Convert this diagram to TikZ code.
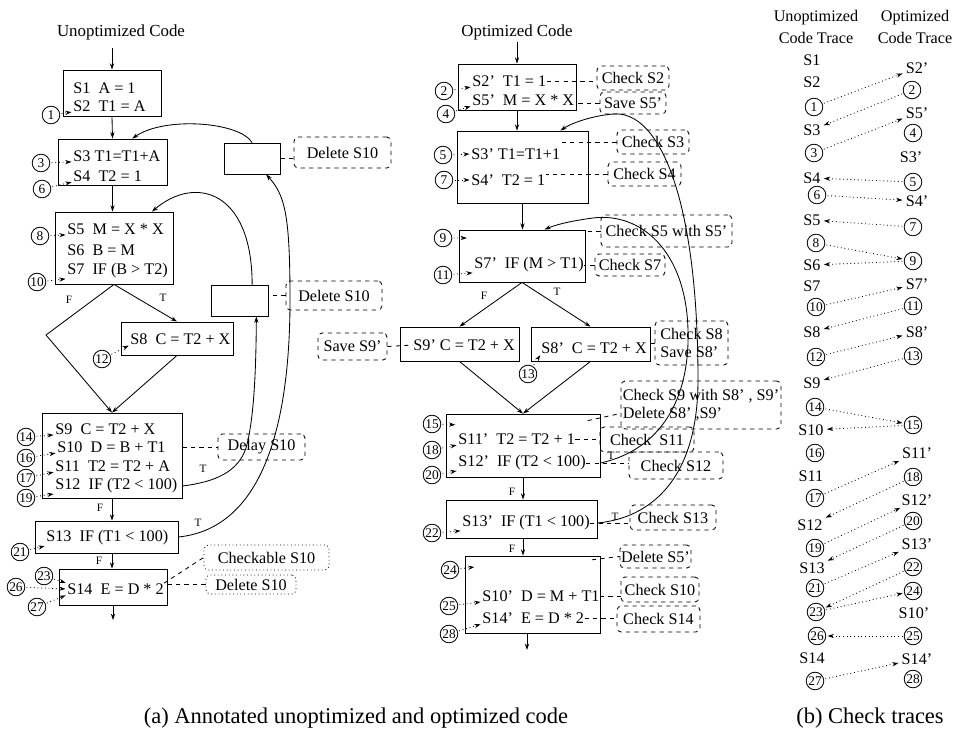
\documentclass[tikz,border=0pt]{standalone}
\usepackage{fontspec}
\setmainfont{Liberation Serif}
\usetikzlibrary{arrows.meta}
\usetikzlibrary{fit}

\begin{document}
\begin{tikzpicture}[x=0.025cm,y=-0.025cm,
    font=\fontsize{11.5}{13}\selectfont,
    line width=0.6pt,
    >={Stealth[length=4.5pt,width=3pt]},
    blk/.style={draw,inner sep=0pt,fit={#1}},
    note/.style={draw,dashed,rounded corners=3pt,inner sep=0pt,fit={#1}},
    dnote/.style={draw,dotted,rounded corners=3pt,inner sep=0pt,fit={#1}},
    code/.style={anchor=west,inner sep=0pt},
    num/.style={draw,circle,solid,inner sep=0.2pt,minimum size=12.5pt,font=\fontsize{9.5}{9.5}\selectfont},
    lbl/.style={font=\fontsize{8}{9}\selectfont},
    tr/.style={inner sep=1pt},
    trc/.style={->,dotted,shorten >=1pt,shorten <=1pt},
    link/.style={dashed}]
    \useasboundingbox (0,0) rectangle (956,738);
    %
    % unoptimized code
    \node[font=\fontsize{12}{14}\selectfont] (utitle) at (121,32) {Unoptimized Code};
    \coordinate (utop) at (112,48);
    \node[blk={(63,70) (161,116)}] (b1) {};
    \node[code] (t1) at (73,88) {S1~~A = 1};
    \node[code] (t2) at (73,106) {S2~~T1 = A};
    \node[blk={(58,139) (167,185)}] (b2) {};
    \node[code] (t3) at (73,156) {S3 T1=T1+A};
    \node[code] (t4) at (73,176) {S4~~T2 = 1};
    \node[blk={(55,212) (173,284)}] (b3) {};
    \node[code] (t5) at (67,229) {S5~~M = X * X};
    \node[code] (t6) at (67,250) {S6~~B = M};
    \node[code] (t7) at (67,271) {S7~~IF (B > T2)};
    \coordinate (dl) at (46,335);
    \node[blk={(121,322) (233,355)}] (b4) {};
    \node[code] (t8) at (130,339) {S8~~C = T2 + X};
    \node[blk={(42,413) (182,498)}] (b5) {};
    \node[code] (t9) at (55,429) {S9~~C = T2 + X};
    \node[code] (t10) at (57,447) {S10~~D = B + T1};
    \node[code] (t11) at (55,466) {S11~~T2 = T2 + A};
    \node[code] (t12) at (55,486) {S12~~IF (T2 < 100)};
    \node[blk={(35,521) (178,553)}] (b6) {};
    \node[code] (t13) at (46,538) {S13~~IF (T1 < 100)};
    \node[blk={(59,569) (167,605)}] (b7) {};
    \node[code] (t14) at (67,589) {S14~~E = D * 2};
    \coordinate (uend) at (113,620);
    %
    \draw[->] (utop) -- (b1.north);
    \draw[->] (b1.south) -- (b2.north);
    \draw[->] (b2.south) -- (b2.south |- b3.north);
    \draw[->] (b3.south) -- (dl) -- (b5.north);
    \draw[->] (b3.south) -- (b4.north);
    \draw[->] (b4.south) -- (b5.north);
    \draw[->] (b5.south) -- (b5.south |- b6.north);
    \draw[->] (b5.south |- b6.south) -- (b5.south |- b7.north);
    \draw[->] (b7.south) -- (b7.south |- uend);
    \node[lbl] (f1) at (69,300) {F};
    \node[lbl] (tt1) at (163,298) {T};
    \node[lbl] (f2) at (100,508) {F};
    \node[lbl] (f3) at (99,561) {F};
    %
    \node[num] (c1) at (51,115) {1};
    \node[num] (c3) at (41,163) {3};
    \node[num] (c6) at (42,189) {6};
    \node[num] (c8) at (40,236) {8};
    \node[num] (c10) at (37,282) {10};
    \node[num] (c12) at (102,359) {12};
    \node[num] (c14) at (26,437) {14};
    \node[num] (c16) at (26,458) {16};
    \node[num] (c17) at (26,478) {17};
    \node[num] (c19) at (26,498) {19};
    \node[num] (c21) at (20,552) {21};
    \node[num] (c23) at (44,576) {23};
    \node[num] (c26) at (16,587) {26};
    \node[num] (c27) at (37,607) {27};
    \draw[trc] (c1) -- (t2.south west);
    \draw[trc] (c3) -- (t3.south west);
    \draw[trc] (c6) -- (t4.south west);
    \draw[trc] (c8) -- (t5.south west);
    \draw[trc] (c10) -- (t7.south west);
    \draw[trc] (c12) -- (t8.south west);
    \draw[trc] (c14) -- (t9.south west);
    \draw[trc] (c16) -- (t10.south west);
    \draw[trc] (c17) -- (t11.south west);
    \draw[trc] (c19) -- (t12.south west);
    \draw[trc] (c21) -- (t13.south west);
    \draw[trc] (c23) -- (t14.north west);
    \draw[trc] (c26) -- (t14.west);
    \draw[trc] (c27) -- (t14.south west);
    %
    \node[blk={(224,143) (280,174)}] (e1) {};
    \node[note={(294,137) (391,168)}, label={center:Delete S10}] (del1) {};
    \draw[link] (e1.east) -- (e1.east -| del1.west);
    \node[blk={(211,285) (268,316)}] (e2) {};
    \node[note={(286,281) (382,310)}, label={center:Delete S10}] (del2) {};
    \draw[link] (del2.west) -- (del2.west -| e2.east);
    \node[note={(218,434) (305,460)}, label={center:Delay S10}] (dly) {};
    \draw[link] (b5.east |- t10) -- (dly.west);
    \node[dnote={(204,545) (329,570)}, label={center:Checkable S10}] (ck10) {};
    \node[dnote={(206,575) (296,594)}, label={center:Delete S10}] (dl10) {};
    \draw[link] (t14.north east) -- (ck10.west);
    \draw[link] (dl10.west) -- (dl10.west -| b7.east);
    %
    \draw[->] (b5.east |- t12) .. controls (215,482) and (238,472) .. (246,448)
      .. controls (254,420) and (256,370) .. ([xshift=12pt]e2.south);
    \node[lbl] (tt2) at (203,469) {T};
    \draw[->] ([xshift=9pt]e2.north) .. controls (252,190) and (195,175) .. ([xshift=27pt]b3.north);
    \draw[->] (b6.east) .. controls (265,528) and (290,420) .. (290,300)
      .. controls (290,215) and (285,195) .. ([xshift=10pt]e1.south);
    \node[lbl] (tt3) at (198,523) {T};
    \draw[->] (e1.north) .. controls (240,122) and (165,116) .. ([xshift=14pt]b2.north);
    %
    % optimized code
    \node[font=\fontsize{12}{14}\selectfont] (otitle) at (517,32) {Optimized Code};
    \coordinate (otop) at (517,42);
    \node[blk={(458,64) (576,110)}] (o1) {};
    \node[code] (s2) at (472,81) {S2'~~T1 = 1};
    \node[code] (s5) at (472,100) {S5'~~M = X * X};
    \node[blk={(457,131) (588,203)}] (o2) {};
    \node[code] (s3) at (471,154) {S3' T1=T1+1};
    \node[code] (s4) at (471,180) {S4'~~T2 = 1};
    \node[blk={(459,230) (585,282)}] (o3) {};
    \node[code] (s7) at (474,265) {S7'~~IF (M > T1)};
    \node[blk={(400,327) (519,361)}] (o4) {};
    \node[code] (s9) at (413,345) {S9' C = T2 + X};
    \node[blk={(531,327) (650,361)}] (o5) {};
    \node[code] (s8) at (541,348) {S8'~~C = T2 + X};
    \node[blk={(446,414) (600,477)}] (o6) {};
    \node[code] (s11) at (458,439) {S11'~~T2 = T2 + 1};
    \node[code] (s12) at (458,463) {S12'~~IF (T2 < 100)};
    \node[blk={(446,500) (597,538)}] (o7) {};
    \node[code] (s13) at (462,523) {S13'~~IF (T1 < 100)};
    \node[blk={(465,556) (600,633)}] (o8) {};
    \node[code] (s10) at (482,596) {S10'~~D = M + T1};
    \node[code] (s14) at (482,618) {S14'~~E = D * 2};
    \coordinate (oend) at (527,650);
    %
    \draw[->] (otop) -- (o1.north);
    \draw[->] (o1.south) -- (o1.south |- o2.north);
    \draw[->] (o2.south) -- (o2.south |- o3.north);
    \draw[->] (o3.south) -- (o4.north);
    \draw[->] (o3.south) -- (o5.north);
    \draw[->] (o4.south) -- (o6.north);
    \draw[->] (o5.south) -- (o6.north);
    \draw[->] (o6.south) -- (o6.south |- o7.north);
    \draw[->] (o6.south |- o7.south) -- (o6.south |- o8.north);
    \draw[->] (oend |- o8.south) -- (oend);
    \node[lbl] (f4) at (484,296) {F};
    \node[lbl] (tt4) at (557,292) {T};
    \node[lbl] (f5) at (512,492) {F};
    \node[lbl] (f6) at (512,549) {F};
    %
    \node[num] (c2) at (444,91) {2};
    \node[num] (c4) at (446,114) {4};
    \node[num] (c5) at (443,155) {5};
    \node[num] (c7) at (444,180) {7};
    \node[num] (c9) at (443,238) {9};
    \node[num] (c11) at (443,275) {11};
    \node[num] (c13) at (528,374) {13};
    \node[num] (c15) at (432,424) {15};
    \node[num] (c18) at (432,450) {18};
    \node[num] (c20) at (432,475) {20};
    \node[num] (c22) at (432,533) {22};
    \node[num] (c24) at (450,570) {24};
    \node[num] (c25) at (449,606) {25};
    \node[num] (c28) at (449,634) {28};
    \draw[trc] (c2) -- (s2.south west);
    \draw[trc] (c4) -- (s5.south west);
    \draw[trc] (c5) -- (s3.west);
    \draw[trc] (c7) -- (s4.west);
    \draw[trc] (c9) -- ([xshift=7pt,yshift=-6pt]o3.north west);
    \draw[trc] (c11) -- (s7.south west);
    \draw[trc] (c13) -- (s8.south west);
    \draw[trc] (c15) -- ([xshift=8pt,yshift=-8pt]o6.north west);
    \draw[trc] (c18) -- (s11.south west);
    \draw[trc] (c20) -- (s12.south west);
    \draw[trc] (c22) -- (s13.south west);
    \draw[trc] (c24) -- ([xshift=8pt,yshift=-8pt]o8.north west);
    \draw[trc] (c25) -- (s10.south west);
    \draw[trc] (c28) -- (s14.south west);
    %
    \node[note={(597,66) (669,90)}, label={center:Check S2}] (ck2) {};
    \draw[link] (s2.east) -- (s2.east -| ck2.west);
    \node[note={(600,92) (666,114)}, label={center:Save S5'}] (sv5) {};
    \draw[link] (sv5.west) -- (sv5.west -| o1.east);
    \node[note={(617,130) (689,154)}, label={center:Check S3}] (ck3) {};
    \draw[link] (ck3.west) -- (ck3.west -| s3.east);
    \node[note={(608,162) (681,186)}, label={center:Check S4}] (ck4) {};
    \draw[link] (ck4.west) -- (ck4.west -| s4.east);
    \node[note={(601,215) (732,247)}, label={center:Check S5 with S5'}] (ck5) {};
    \draw[link] (ck5.west) -- (ck5.west -| o3.east);
    \node[note={(595,254) (665,276)}, label={center:Check S7}] (ck7) {};
    \draw[link] (ck7.west) -- (ck7.west -| s7.east);
    \node[note={(318,333) (387,360)}, label={center:Save S9'}] (sv9) {};
    \draw[link] (sv9.east) -- (s9.west);
    \node[note={(655,321) (728,365)}, label={[align=left]center:{Check S8\\Save S8'}}] (ck8) {};
    \draw[link] (ck8.west) -- (ck8.west -| s8.east);
    \node[note={(621,381) (781,429)}, label={[align=left]center:{Check S9 with S8' , S9'\\Delete S8' ,S9'}}] (ck9) {};
    \draw[link] ([xshift=-9pt,yshift=-5pt]o6.north east) -- ([yshift=-6pt]ck9.west);
    \node[note={(600,427) (694,452)}, label={center:Check~~S11}] (ck11) {};
    \draw[link] (s11.east) -- (s11.east -| ck11.west);
    \node[note={(629,452) (723,479)}, label={center:Check S12}] (ck12) {};
    \draw[link] (s12.east) -- (s12.east -| ck12.west);
    \node[note={(630,505) (716,530)}, label={center:Check S13}] (ck13) {};
    \draw[link] (s13.east) -- (s13.east -| ck13.west);
    \node[note={(620,545) (691,568)}, label={center:Delete S5'}] (dl5) {};
    \draw[link] ([xshift=-6pt,yshift=-3pt]o8.north east) -- (dl5.west);
    \node[note={(621,577) (699,602)}, label={center:Check S10}] (ck10p) {};
    \draw[link] (s10.east) -- (s10.east -| ck10p.west);
    \node[note={(617,606) (700,632)}, label={center:Check S14}] (ck14) {};
    \draw[link] (s14.east) -- (s14.east -| ck14.west);
    %
    \draw[->] (o6.east |- s12) .. controls (660,450) and (690,400) .. (688,330)
      .. controls (686,250) and (640,212) .. (593,218)
      .. controls (570,221) and (555,225) .. ([xshift=16pt]o3.north);
    \node[lbl] (tt5) at (611,456) {T};
    \draw[->] (o7.east |- s13) .. controls (650,518) and (698,480) .. (698,380)
      .. controls (698,200) and (660,110) .. (613,114)
      .. controls (590,116) and (570,124) .. ([xshift=27pt]o2.north);
    \node[lbl] (tt6) at (615,517) {T};
    %
    % check traces
    \node[align=center,font=\fontsize{11.5}{16}\selectfont] (uhead) at (816,27) {Unoptimized\\Code Trace};
    \node[align=center,font=\fontsize{11.5}{16}\selectfont] (ohead) at (915,27) {Optimized\\Code Trace};
    \node[tr] (uS1) at (812,60) {S1};
    \node[tr] (uS2) at (812,82) {S2};
    \node[num] (tc1) at (814,107) {1};
    \node[tr] (uS3) at (812,130) {S3};
    \node[num] (tc3) at (814,153) {3};
    \node[tr] (uS4) at (812,178) {S4};
    \node[num] (tc6) at (817,195) {6};
    \node[tr] (uS5) at (812,220) {S5};
    \node[num] (tc8) at (816,243) {8};
    \node[tr] (uS6) at (812,265) {S6};
    \node[tr] (uS7) at (812,286) {S7};
    \node[num] (tc10) at (816,307) {10};
    \node[tr] (uS8) at (812,332) {S8};
    \node[num] (tc12) at (816,357) {12};
    \node[tr] (uS9) at (812,383) {S9};
    \node[num] (tc14) at (815,407) {14};
    \node[tr] (uS10) at (811,430) {S10};
    \node[num] (tc16) at (815,453) {16};
    \node[tr] (uS11) at (811,476) {S11};
    \node[num] (tc17) at (815,498) {17};
    \node[tr] (uS12) at (810,525) {S12};
    \node[num] (tc19) at (815,548) {19};
    \node[tr] (uS13) at (812,568) {S13};
    \node[num] (tc21) at (815,588) {21};
    \node[num] (tc23) at (816,612) {23};
    \node[num] (tc26) at (817,636) {26};
    \node[tr] (uS14) at (812,658) {S14};
    \node[num] (tc27) at (815,681) {27};
    %
    \node[tr] (oS2) at (917,68) {S2'};
    \node[num] (tc2) at (912,90) {2};
    \node[tr] (oS5) at (917,113) {S5'};
    \node[num] (tc4) at (913,133) {4};
    \node[tr] (oS3) at (911,157) {S3'};
    \node[num] (tc5) at (913,182) {5};
    \node[tr] (oS4) at (917,201) {S4'};
    \node[num] (tc7) at (913,227) {7};
    \node[num] (tc9) at (913,261) {9};
    \node[tr] (oS7) at (917,284) {S7'};
    \node[num] (tc11) at (913,306) {11};
    \node[tr] (oS8) at (917,332) {S8'};
    \node[num] (tc13) at (913,356) {13};
    \node[num] (tc15) at (913,425) {15};
    \node[tr] (oS11) at (917,453) {S11'};
    \node[num] (tc18) at (913,477) {18};
    \node[tr] (oS12) at (917,500) {S12'};
    \node[num] (tc20) at (913,521) {20};
    \node[tr] (oS13) at (917,544) {S13'};
    \node[num] (tc22) at (913,567) {22};
    \node[num] (tc24) at (913,591) {24};
    \node[tr] (oS10) at (914,613) {S10'};
    \node[num] (tc25) at (913,636) {25};
    \node[tr] (oS14) at (917,659) {S14'};
    \node[num] (tc28) at (913,679) {28};
    %
    \draw[trc] (tc1) -- (oS2);
    \draw[trc] (tc2) -- (uS3);
    \draw[trc] (tc3) -- (oS5);
    \draw[trc] (tc5) -- (uS4);
    \draw[trc] (tc6) -- (oS4);
    \draw[trc] (tc7) -- (uS5);
    \draw[trc] (tc8) -- (tc9);
    \draw[trc] (tc9) -- (uS6);
    \draw[trc] (tc10) -- (oS7);
    \draw[trc] (tc11) -- (uS8);
    \draw[trc] (tc12) -- (oS8);
    \draw[trc] (tc13) -- (uS9);
    \draw[trc] (tc14) -- (tc15);
    \draw[trc] (tc15) -- (uS10);
    \draw[trc] (tc17) -- (oS11);
    \draw[trc] (tc18) -- (uS12);
    \draw[trc] (tc19) -- (oS12);
    \draw[trc] (tc20) -- (uS13);
    \draw[trc] (tc21) -- (oS13);
    \draw[trc] (tc22) -- (tc23);
    \draw[trc] (tc23) -- (tc24);
    \draw[trc] (tc25) -- (tc26);
    \draw[trc] (tc27) -- (oS14);
    %
    \node[font=\fontsize{16}{18}\selectfont] (capa) at (356,718) {(a) Annotated unoptimized and optimized code};
    \node[font=\fontsize{16}{18}\selectfont] (capb) at (870,718) {(b) Check traces};
\end{tikzpicture}
\end{document}
